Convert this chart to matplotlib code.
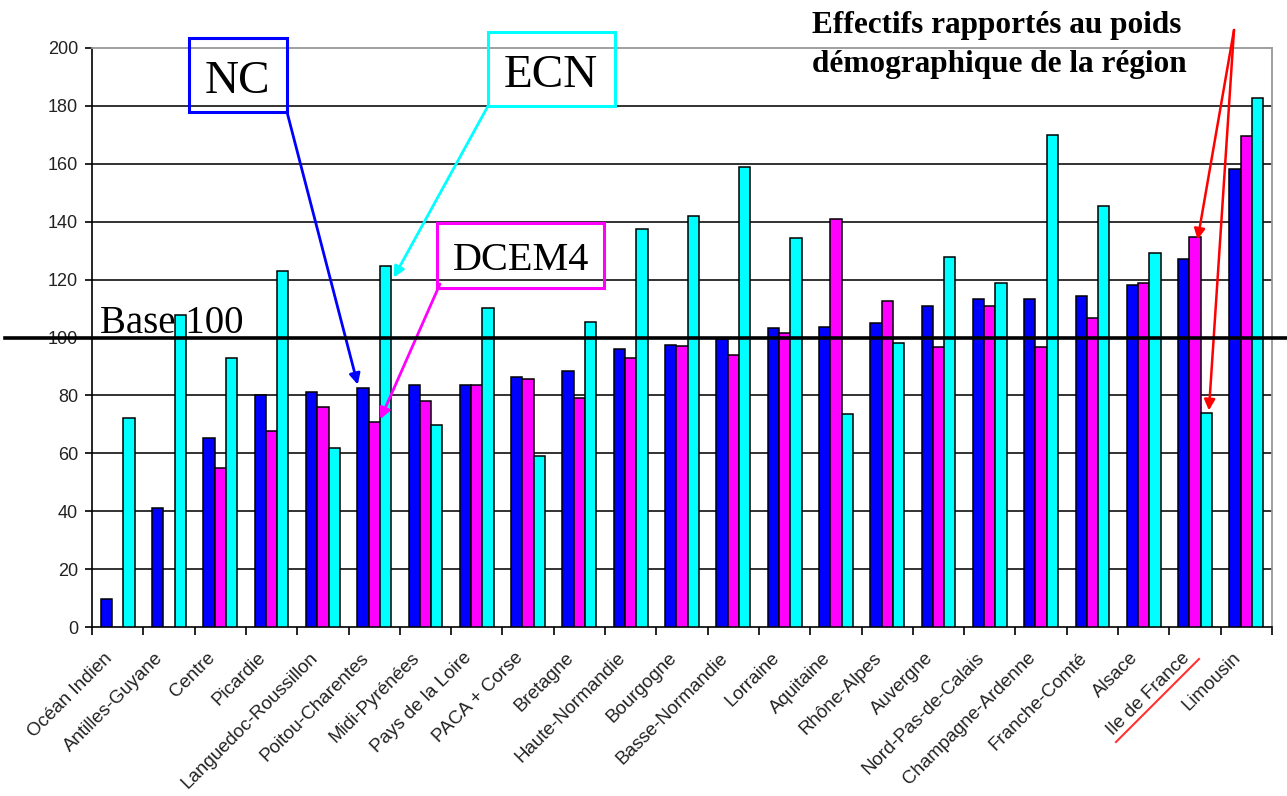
import numpy as np
import matplotlib.pyplot as plt
import matplotlib.transforms as mtransforms
from matplotlib.patches import Rectangle
from matplotlib.lines import Line2D

# Effectifs rapportés au poids démographique (base 100) par région
regions = ["Océan Indien", "Antilles-Guyane", "Centre", "Picardie",
           "Languedoc-Roussillon", "Poitou-Charentes", "Midi-Pyrénées",
           "Pays de la Loire", "PACA + Corse", "Bretagne", "Haute-Normandie",
           "Bourgogne", "Basse-Normandie", "Lorraine", "Aquitaine",
           "Rhône-Alpes", "Auvergne", "Nord-Pas-de-Calais", "Champagne-Ardenne",
           "Franche-Comté", "Alsace", "Ile de France", "Limousin"]
nc = [9.6, 41.2, 65.3, 80.1, 81.2, 82.7, 83.7, 83.7, 86.2, 88.3, 96.0, 97.4,
      99.5, 103.2, 103.5, 105.1, 110.9, 113.3, 113.3, 114.4, 118.0, 127.2, 158.3]
dcem4 = [np.nan, np.nan, 55.0, 67.8, 76.0, 70.8, 78.1, 83.6, 85.7, 79.1, 92.8, 97.0,
         94.0, 101.4, 140.8, 112.7, 96.8, 110.9, 96.8, 106.6, 118.9, 134.8, 169.6]
ecn = [72.3, 107.8, 92.8, 123.0, 61.7, 124.7, 69.8, 110.2, 59.2, 105.5, 137.4, 141.9,
       158.8, 134.3, 73.5, 98.0, 127.7, 118.9, 170.1, 145.4, 129.1, 73.8, 182.8]
yticks = list(range(0, 201, 20))

W, H = 1287, 796
fig = plt.figure(figsize=(W / 100, H / 100), dpi=100)
ax = fig.add_axes([92 / W, 1 - 627 / H, 1180 / W, 579 / H])

def fpx(x, y):
    # pixel position (from top-left) -> figure fraction
    return x / W, 1 - y / H

x = np.arange(len(regions))
w = 0.22
ax.bar(x - w, nc, w, color="#0000ff", edgecolor="black", linewidth=1.1, zorder=3)
ax.bar(x, dcem4, w, color="#ff00ff", edgecolor="black", linewidth=1.1, zorder=3)
ax.bar(x + w, ecn, w, color="#00ffff", edgecolor="black", linewidth=1.1, zorder=3)

ax.set_xlim(-0.5, len(regions) - 0.5)
ax.set_ylim(0, 200)
for v in yticks[1:-1]:
    ax.axhline(v, color="#222222", linewidth=1.3, zorder=1)

ax.spines["top"].set_color("#999999")
ax.spines["right"].set_color("#999999")
ax.spines["top"].set_linewidth(1.3)
ax.spines["right"].set_linewidth(1.3)
ax.spines["left"].set_linewidth(1.2)
ax.spines["bottom"].set_linewidth(1.2)

ax.set_yticks(yticks)
ax.set_yticklabels([str(v) for v in yticks], family="Liberation Sans",
                   fontsize=13, color="#222222")
ax.tick_params(axis="y", length=5, width=1.2, pad=5)

ax.set_xticks(x)
ax.set_xticks(np.arange(len(regions) + 1) - 0.5, minor=True)
ax.set_xticklabels(regions, rotation=45, ha="right", rotation_mode="anchor",
                   family="Liberation Sans", fontsize=13.5, color="#222222")
ax.tick_params(axis="x", which="major", length=0, pad=14)
ax.tick_params(axis="x", which="minor", length=6, width=1.2)
shift = mtransforms.ScaledTranslation(-0.14, -0.03, fig.dpi_scale_trans)
for lab in ax.get_xticklabels():
    lab.set_transform(lab.get_transform() + shift)

# ligne de base 100
ax.axhline(100, xmin=-0.074, xmax=1.013, color="black", linewidth=2.6,
           clip_on=False, zorder=5)
fig.text(*fpx(100, 333), "Base 100", family="Liberation Serif", fontsize=28,
         va="baseline", ha="left")

# encadrés NC / ECN / DCEM4
boxes = [("NC", "#0000ff", 189, 38, 98, 74, 237, 93, 34),
         ("ECN", "#00ffff", 488, 32, 127, 74, 551, 87, 34),
         ("DCEM4", "#ff00ff", 437, 223, 167, 65, 521, 270, 29)]
for label, col, bx, by, bw, bh, tx, ty, fs in boxes:
    fig.add_artist(Rectangle(fpx(bx, by + bh), bw / W, bh / H,
                             transform=fig.transFigure, fill=False,
                             edgecolor=col, linewidth=2.2))
    fig.text(*fpx(tx, ty), label, family="Liberation Serif", fontsize=fs,
             ha="center", va="baseline")

pc = regions.index("Poitou-Charentes")
arrows = [("#0000ff", (287, 112), (pc - w - 0.1, nc[pc] + 1)),
          ("#00ffff", (488, 106), (pc + w + 0.16, ecn[pc] - 4)),
          ("#ff00ff", (440, 284), (pc + 0.12, dcem4[pc] + 1))]
for col, start, tip in arrows:
    ax.annotate("", xy=tip, xycoords="data", xytext=(start[0], H - start[1]),
                textcoords="figure pixels",
                arrowprops=dict(arrowstyle="-|>", color=col, lw=2,
                                mutation_scale=16, shrinkA=0, shrinkB=0))

# annotation Ile de France
fig.text(*fpx(812, 33), "Effectifs rapportés au poids", family="Liberation Serif",
         fontsize=22.5, fontweight="bold", va="baseline", ha="left")
fig.text(*fpx(812, 72), "démographique de la région", family="Liberation Serif",
         fontsize=22.5, fontweight="bold", va="baseline", ha="left")
idf = regions.index("Ile de France")
for tip in [(idf + 0.05, dcem4[idf] - 1), (idf + w + 0.05, ecn[idf] + 1)]:
    ax.annotate("", xy=tip, xycoords="data", xytext=(1234, H - 30),
                textcoords="figure pixels",
                arrowprops=dict(arrowstyle="-|>", color="#ff0000", lw=1.8,
                                mutation_scale=16, shrinkA=0, shrinkB=0))
x0, y0 = fpx(1116, 742)
x1, y1 = fpx(1199, 659)
fig.add_artist(Line2D([x0, x1], [y0, y1], transform=fig.transFigure,
                      color="#ff3333", linewidth=1.5))

fig.savefig("out.png", dpi=100)
